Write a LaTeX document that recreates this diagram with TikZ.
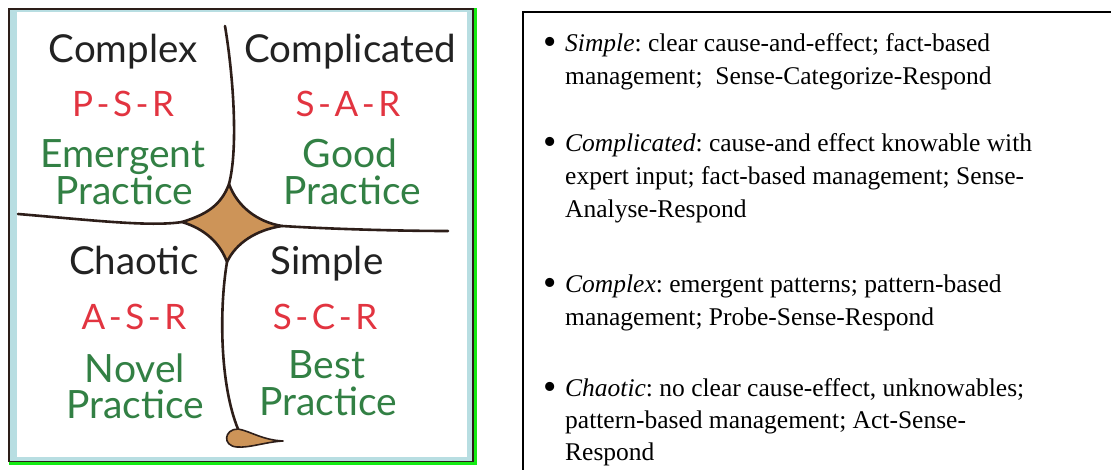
\documentclass[tikz,border=0pt]{standalone}
\usepackage{fontspec}
\setmainfont{Liberation Serif}
\newfontfamily\lblfont{Lato}
\frenchspacing
\definecolor{framblue}{RGB}{184,222,226}
\definecolor{framgreen}{RGB}{20,235,20}
\definecolor{linebrown}{RGB}{45,30,25}
\definecolor{tanfill}{RGB}{205,148,88}
\definecolor{codered}{RGB}{226,52,64}
\definecolor{pracgreen}{RGB}{50,128,68}
\definecolor{domblack}{RGB}{34,34,34}
\newcommand{\hy}{\kern3.5pt-\kern3.5pt}
\tikzset{
  lbl/.style={anchor=base, inner sep=0pt, font=\lblfont\fontsize{38.5}{40}\selectfont},
  domlbl/.style={lbl, text=domblack},
  codelbl/.style={lbl, text=codered, font=\lblfont\fontsize{35}{36}\selectfont},
  praclbl/.style={lbl, text=pracgreen, font=\lblfont\fontsize{39}{40}\selectfont},
  cyn/.style={draw=linebrown, line width=2.6pt, line cap=round},
  txtline/.style={anchor=base west, inner sep=0pt, font=\fontsize{25.5}{30}\selectfont},
  bul/.style={anchor=base, inner sep=0pt, font=\fontsize{38}{40}\selectfont}
}
\begin{document}
\begin{tikzpicture}[x=1pt,y=-1pt]
\useasboundingbox (0,0) rectangle (1111,470);
% left framed picture
\fill[framblue] (9,9) rectangle (473,461.5);
\fill[white] (17,12.5) rectangle (467,457);
\draw[linebrown, line width=1.2pt] (9,9) rectangle (473,461.5);
\draw[framgreen, line width=3pt] (475.5,8) -- (475.5,463.5) -- (9,463.5);
% Cynefin boundaries
\coordinate (T) at (229,184);
\coordinate (L) at (182,222);
\coordinate (R) at (282,226);
\coordinate (B) at (227,262);
\filldraw[fill=tanfill, draw=linebrown, line width=2.6pt, line join=round]
  (T) .. controls (221,206) and (205,215) .. (L)
      .. controls (205,229) and (220,243) .. (B)
      .. controls (236,243) and (256,230) .. (R)
      .. controls (257,222) and (237,206) .. (T) -- cycle;
\coordinate (topend) at (225,26);
\coordinate (leftend) at (18,214);
\coordinate (rightend) at (448,231);
\coordinate (botend) at (238,429);
\coordinate (tail) at (283,441);
\path[cyn] (topend) .. controls (234,80) and (238,150) .. (T);
\path[cyn] (leftend) .. controls (90,220) and (150,227) .. (L);
\path[cyn] (R) .. controls (330,229) and (400,231) .. (rightend);
\path[cyn] (B) .. controls (219,310) and (220,385) .. (botend);
\filldraw[fill=tanfill, draw=linebrown, line width=1.6pt, line join=round]
  (botend) .. controls (250,431) and (262,440) .. (tail)
  .. controls (265,442) and (250,448) .. (237,447)
  .. controls (222,446) and (224,429) .. (botend) -- cycle;
% domain labels
\node[domlbl] (cx) at (123,63) {Complex};
\node[domlbl] (cd) at (350,63) {Complicated};
\node[domlbl] (ch) at (134,275) {Chaotic};
\node[domlbl] (sm) at (327,275) {Simple};
\node[codelbl] (psr) at (123,117) {P\hy S\hy R};
\node[codelbl] (sar) at (348,117) {S\hy A\hy R};
\node[codelbl] (asr) at (134,330) {A\hy S\hy R};
\node[codelbl] (scr) at (325,330) {S\hy C\hy R};
\node[praclbl] (em1) at (123,168) {Emergent};
\node[praclbl] (em2) at (124,205) {Practice};
\node[praclbl] (gd1) at (350,168) {Good};
\node[praclbl] (gd2) at (352,205) {Practice};
\node[praclbl] (nv1) at (135,382) {Novel};
\node[praclbl] (nv2) at (135,418) {Practice};
\node[praclbl] (bs1) at (327,378) {Best};
\node[praclbl] (bs2) at (328,415) {Practice};
% right box
\draw[black, line width=1.3pt] (523,470) -- (523,12) -- (1111,12);
\node[bul] (b1) at (550,55) {•};
\node[txtline] (l1) at (565,52) {\textit{Simple}: clear cause-and-effect; fact-based};
\node[txtline] (l2) at (565,85) {management;\ \ Sense-Categorize-Respond};
\node[bul] (b2) at (550,155) {•};
\node[txtline] (l3) at (565,152) {\textit{Complicated}: cause-and effect knowable with};
\node[txtline] (l4) at (565,185) {expert input; fact-based management; Sense-};
\node[txtline] (l5) at (565,218) {Analyse-Respond};
\node[bul] (b3) at (550,296) {•};
\node[txtline] (l6) at (565,293) {\textit{Complex}: emergent patterns; pattern-based};
\node[txtline] (l7) at (565,326) {management; Probe-Sense-Respond};
\node[bul] (b4) at (550,399) {•};
\node[txtline] (l8) at (565,396) {\textit{Chaotic}: no clear cause-effect, unknowables;};
\node[txtline] (l9) at (565,428) {pattern-based management; Act-Sense-};
\node[txtline] (l10) at (565,460) {Respond};
\end{tikzpicture}
\end{document}
